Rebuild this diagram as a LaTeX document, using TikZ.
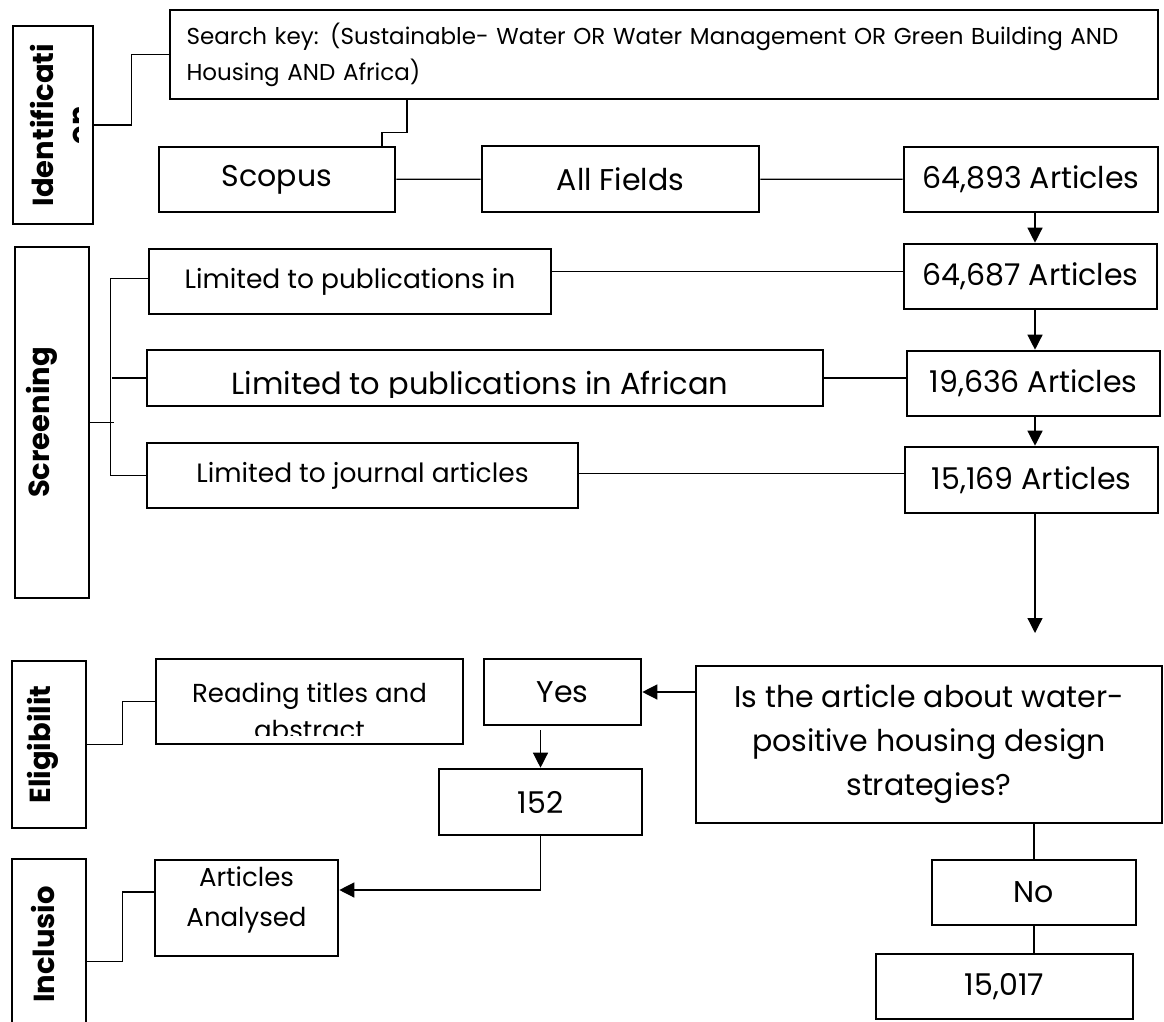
\documentclass[tikz,border=0pt]{standalone}
\usepackage{fontspec}
\setmainfont{Poppins}
\usetikzlibrary{arrows.meta}
\tikzstyle{every edge} = [draw,line width=1.3pt]
\tikzstyle{box} = [draw,line width=2.6pt,rectangle,inner sep=0pt,align=center,font=\fontsize{30}{44}\selectfont]
\tikzstyle{mid} = [font=\fontsize{26.5}{37}\selectfont]
\tikzstyle{phase} = [draw,line width=2.6pt,rectangle,inner sep=0pt]
\tikzstyle{phasetxt} = [rotate=90,align=center,font=\fontsize{29}{36}\selectfont\bfseries]
\tikzstyle{arr} = [-{Triangle[length=15pt,width=15pt]}]
\tikzset{wh/.style 2 args={minimum width=#1,minimum height=#2}}

\begin{document}
\begin{tikzpicture}[x=1pt,y=-1pt]
\clip (0,0) rectangle (1164,1022);

% identification
\node[phase,wh={80}{198},path picture={
  \clip (path picture bounding box.south west) rectangle ([xshift=-15pt]path picture bounding box.north east);
  \node[phasetxt] at ([xshift=7pt]path picture bounding box.center) {Identificati\\on};}] (idl) at (53,125) {};
\node[box,wh={988}{89},text width=955pt,align=left,font=\fontsize{23}{36}\selectfont] (key) at (664,54.5) {Search key: (Sustainable- Water OR Water Management OR Green Building AND\\Housing AND Africa)};
\node[box,wh={236}{65}] (scopus) at (277,179.5) {Scopus};
\node[box,wh={277}{66}] (fields) at (620.5,179) {All Fields};
\node[box,wh={254}{65}] (n1) at (1031,179.5) {64,893 Articles};

% screening
\node[phase,wh={74}{351}] (scl) at (52,422.5) {};
\node[phasetxt] at ([xshift=-10pt]scl.center) {Screening};
\node[box,mid,wh={402}{65}] (lim1) at (350,281.5) {Limited to publications in};
\node[box,wh={253}{65}] (n2) at (1030.5,276.5) {64,687 Articles};
\node[box,wh={676}{56},path picture={
  \clip ([yshift=9pt]path picture bounding box.south west) rectangle (path picture bounding box.north east);
  \node[anchor=base,font=\fontsize{30.5}{37}\selectfont] at ([xshift=-5pt,yshift=12pt]path picture bounding box.south) {Limited to publications in African};}] (lim2) at (485,378) {};
\node[box,wh={253}{65}] (n3) at (1033.5,383.5) {19,636 Articles};
\node[box,mid,wh={431}{65}] (lim3) at (362.5,475.5) {Limited to journal articles};
\node[box,wh={253}{66}] (n4) at (1031.5,480) {15,169 Articles};
\coordinate (qtop) at (1035,633);

% eligibility
\node[box,wh={466}{157}] (q) at (929,744.5) {Is the article about water-\\positive housing design\\strategies?};
\node[box,wh={157}{66}] (yes) at (562.5,692) {Yes};
\node[box,wh={307}{85},path picture={
  \clip ([yshift=9pt]path picture bounding box.south west) rectangle (path picture bounding box.north east);
  \node[align=center,font=\fontsize{26}{37}\selectfont] at ([yshift=-10pt]path picture bounding box.center) {Reading titles and\\abstract};}] (read) at (309.5,701.5) {};
\node[phase,wh={74}{167}] (ell) at (49,744.5) {};
\node[phasetxt] at ([xshift=-6pt]ell.center) {Eligibilit};
\node[box,wh={203}{66}] (n152) at (540.5,802) {152};

% inclusion
\node[phase,wh={74}{201}] (incl) at (49,959.5) {};
\node[phasetxt] at ([xshift=-6pt,yshift=15pt]incl.center) {Inclusio};
\node[box,wh={183}{96},font=\fontsize{26}{38}\selectfont] (art) at (246.5,908) {\raisebox{9pt}[\height][\depth]{\begin{tabular}{@{}c@{}}Articles\\[2pt]Analysed\end{tabular}}};
\node[box,wh={204}{65}] (no) at (1034,892.5) {No};
\node[box,wh={257}{65}] (n15017) at (1004.5,986.5) {15,017};

% connectors
\draw[line width=1.3pt] (idl.east) -- ++(37,0) |- (key.west);
\draw[line width=1.3pt] ([xshift=-257pt]key.south) -- ++(0,32) -| ([xshift=105pt]scopus.north);
\draw (scopus) edge (fields) (fields) edge (n1);
\draw[line width=1.3pt] (scl.east) -- ++(24,0);
\draw[line width=1.3pt] ([yshift=3pt]lim1.west) -- ++(-37,0) |- (lim3.west);
\draw (lim2.west) edge (lim2.west -| 112,0);
\draw ([yshift=10pt]lim1.east) edge ([yshift=10pt]lim1.east -| n2.west);
\draw (lim2.east) edge (lim2.east -| n3.west);
\draw ([yshift=2pt]lim3.east) edge ([yshift=2pt]lim3.east -| n4.west);
\draw (n1.south -| qtop) edge[arr] (n2.north -| qtop);
\draw (n2.south -| qtop) edge[arr] (n3.north -| qtop);
\draw (n3.south -| qtop) edge[arr] (n4.north -| qtop);
\draw (n4.south -| qtop) edge[arr] (qtop);
\draw (q.west |- yes.east) edge[arr] (yes.east);
\draw ([yshift=-4pt]yes.south -| n152.north) edge[arr] (n152.north);
\draw[line width=1.3pt,arr] (n152.south) |- ([yshift=18pt]art.east);
\draw[line width=1.3pt] (ell.east) -- ++(35,0) |- (read.west);
\draw[line width=1.3pt] ([yshift=-2pt]incl.east) -- ++(35,0) |- ([yshift=16pt]art.west);
\draw (q.south -| no.north) edge (no.north);
\draw (no.south) edge (no.south |- n15017.north);

\end{tikzpicture}
\end{document}
